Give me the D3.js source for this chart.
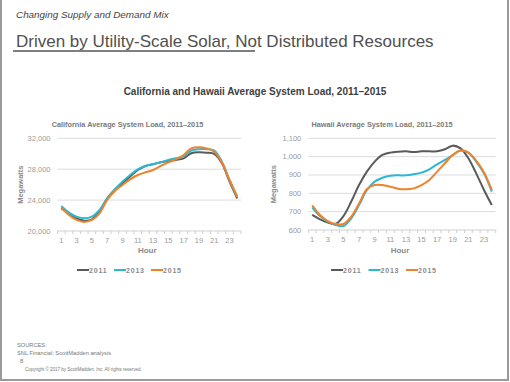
<!DOCTYPE html>
<html><head><meta charset="utf-8">
<script src="https://cdn.jsdelivr.net/npm/d3@7"></script>
<style>
html,body{margin:0;padding:0;background:#fff;}
svg{display:block;font-family:"Liberation Sans",Arial,sans-serif;}
</style></head>
<body>
<script>
const hours = d3.range(1, 25);
const years = ["2011", "2013", "2015"];
const yearColors = ["#5a5a5c", "#2cb7d2", "#f0822c"];

const caLoad2011 = [22940,22200,21640,21340,21510,22500,24230,25310,26180,27040,27900,28420,28630,28890,29060,29200,29410,30060,30190,30140,29970,28760,26390,24230];
const caLoad2013 = [23240,22380,21860,21640,21860,22720,24230,25400,26390,27250,27990,28420,28680,28890,29200,29410,29710,30400,30580,30580,30400,28980,26600,24450];
const caLoad2015 = [23070,22070,21430,21170,21430,22290,24020,25180,25960,26690,27250,27600,27900,28420,28890,29280,29840,30700,30830,30700,30270,28890,26600,24450];

const hiLoad2011 = [682,658,640,633,676,755,845,918,973,1009,1022,1027,1029,1025,1029,1029,1029,1040,1060,1045,991,909,818,736];
const hiLoad2013 = [724,676,645,627,622,664,736,818,864,885,896,898,898,904,913,931,958,982,1009,1033,1022,973,909,809];
const hiLoad2015 = [735,682,649,633,633,673,745,822,845,845,836,825,822,827,845,873,918,964,1009,1033,1022,978,913,818];

const caTicks = [20000, 24000, 28000, 32000];
const hiTicks = [600, 700, 800, 900, 1000, 1100];

const W = 510, H = 382;
const svg = d3.select("body").append("svg").attr("width", W).attr("height", H);

// slide border
svg.append("line").attr("x1",1).attr("x2",1).attr("y1",0).attr("y2",380).attr("stroke","#9a9a9a").attr("stroke-width",2);
svg.append("line").attr("x1",508).attr("x2",508).attr("y1",0).attr("y2",380).attr("stroke","#9a9a9a").attr("stroke-width",2);
svg.append("line").attr("x1",0).attr("x2",509).attr("y1",380).attr("y2",380).attr("stroke","#9a9a9a").attr("stroke-width",2);

// header
svg.append("text").attr("x",16).attr("y",18).attr("font-size",9.9).attr("font-style","italic").attr("fill","#444")
  .text("Changing Supply and Demand Mix");
svg.append("text").attr("x",16).attr("y",47).attr("font-size",17).attr("fill","#505050")
  .text("Driven by Utility-Scale Solar, Not Distributed Resources");
svg.append("line").attr("x1",13).attr("x2",255).attr("y1",51).attr("y2",51).attr("stroke","#555").attr("stroke-width",1.5);

svg.append("text").attr("x",255).attr("y",95).attr("text-anchor","middle").attr("font-size",10).attr("font-weight","bold").attr("fill","#404040")
  .text("California and Hawaii Average System Load, 2011–2015");

function panel(cfg) {
  const x = d3.scaleBand().domain(hours).range([cfg.left, cfg.right]).padding(0);
  const y = d3.scaleLinear().domain(cfg.domain).range([cfg.bottom, cfg.top]);
  const g = svg.append("g");

  g.append("text").attr("x", cfg.titleX).attr("y", 127).attr("text-anchor","middle")
    .attr("font-size",7.3).attr("font-weight","bold").attr("fill","#7a7a7a").text(cfg.title);

  // gridlines
  g.selectAll(".grid").data(cfg.ticks.slice(1)).join("line")
    .attr("x1", cfg.left).attr("x2", cfg.right)
    .attr("y1", d => y(d)).attr("y2", d => y(d))
    .attr("stroke", "#dcdcdc").attr("stroke-width", 1);

  // y labels
  g.selectAll(".yl").data(cfg.ticks).join("text")
    .attr("x", cfg.left - 7).attr("y", d => y(d) + 2.5).attr("text-anchor","end")
    .attr("font-size",7.5).attr("fill","#9a9a9a").text(d => d3.format(",")(d));

  // x axis
  const yb = y(cfg.domain[0]);
  g.append("line").attr("x1", cfg.left).attr("x2", cfg.right).attr("y1", yb).attr("y2", yb)
    .attr("stroke","#cfcfcf").attr("stroke-width",1.2);
  const edges = hours.map(h => x(h)).concat([x(24) + x.bandwidth()]);
  g.selectAll(".xt").data(edges).join("line")
    .attr("x1", d => d).attr("x2", d => d).attr("y1", yb).attr("y2", yb + 3)
    .attr("stroke","#cfcfcf").attr("stroke-width",1);
  g.selectAll(".xl").data(hours.filter(h => h % 2 === 1)).join("text")
    .attr("x", d => x(d) + x.bandwidth()/2).attr("y", yb + 12).attr("text-anchor","middle")
    .attr("font-size",7.5).attr("fill","#9a9a9a").text(d => d);

  g.append("text").attr("x", (cfg.left + cfg.right)/2 - 2).attr("y", 253).attr("text-anchor","middle")
    .attr("font-size",8).attr("font-weight","bold").attr("fill","#8a8a8a").text("Hour");
  g.append("text").attr("transform", `translate(${cfg.yTitleX},${(cfg.top+cfg.bottom)/2}) rotate(-90)`)
    .attr("text-anchor","middle").attr("font-size",7.5).attr("font-weight","bold").attr("fill","#8a8a8a").text("Megawatts");

  const line = d3.line().x((d,i) => x(hours[i]) + x.bandwidth()/2).y(d => y(d)).curve(d3.curveCatmullRom.alpha(0.5));
  cfg.series.forEach((s, k) => {
    g.append("path").attr("d", line(s)).attr("fill","none").attr("stroke", yearColors[k]).attr("stroke-width",2);
  });

  // legend
  years.forEach((yr, k) => {
    const lx = cfg.legendX + k * cfg.legendStep;
    g.append("line").attr("x1", lx).attr("x2", lx + 12).attr("y1", 270).attr("y2", 270)
      .attr("stroke", yearColors[k]).attr("stroke-width", 2);
    g.append("text").attr("x", lx + 12).attr("y", 272.5).attr("font-size",7).attr("font-weight","bold")
      .attr("letter-spacing",0.8).attr("fill","#8a8a8a").text(yr);
  });
}

panel({left:57.5, right:241, top:138.3, bottom:231, domain:[20000,32000], ticks:caTicks,
  title:"California Average System Load, 2011–2015", titleX:127.5, yTitleX:23,
  series:[caLoad2011, caLoad2013, caLoad2015], legendX:77, legendStep:37});
panel({left:308.3, right:495.7, top:138.3, bottom:230, domain:[600,1100], ticks:hiTicks,
  title:"Hawaii Average System Load, 2011–2015", titleX:382, yTitleX:276,
  series:[hiLoad2011, hiLoad2013, hiLoad2015], legendX:331, legendStep:37.5});

// footer
const foot = svg.append("g").attr("fill","#777");
foot.append("text").attr("x",17).attr("y",347).attr("font-size",5.7).text("SOURCES:");
foot.append("text").attr("x",17).attr("y",354.5).attr("font-size",5.7).text("SNL Financial; ScottMadden analysis");
foot.append("text").attr("x",20).attr("y",363).attr("font-size",6).text("8");
foot.append("text").attr("x",25).attr("y",370.5).attr("font-size",4.5).text("Copyright © 2017 by ScottMadden, Inc. All rights reserved.");
</script>
</body></html>
